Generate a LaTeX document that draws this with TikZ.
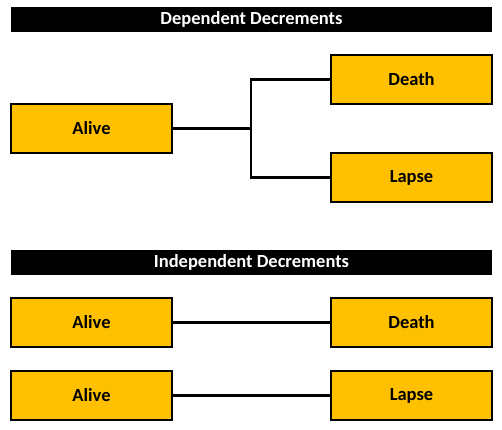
\documentclass[tikz,border=0pt]{standalone}
\usepackage{fontspec}
\setmainfont{Carlito}
\definecolor{gold}{HTML}{FFC000}
\tikzset{
  box/.style={draw=black, line width=1.3pt, fill=gold, minimum width=161pt, minimum height=49pt, inner sep=0pt, font=\fontsize{18.5}{22}\selectfont\bfseries},
  bar/.style={fill=black, minimum width=481pt, minimum height=25pt, inner sep=0pt, text=white, font=\fontsize{18.5}{22}\selectfont\bfseries},
  link/.style={line width=2.2pt}
}
\begin{document}
\begin{tikzpicture}[x=1pt,y=1pt]
\useasboundingbox (0,0) rectangle (502,429);
% top section
\node[bar] (t1) at (251.5,409.5) {Dependent Decrements};
\node[box] (a1) at (91.5,300.5) {Alive};
\node[box] (d1) at (411.5,349.5) {Death};
\node[box] (l1) at (411.5,251.5) {Lapse};
\coordinate (j) at (251,300.5);
\draw[link] (a1.east) -- (j);
\draw[link] (d1.west) -| (j) |- (l1.west);
% bottom section
\node[bar] (t2) at (251.5,166.5) {Independent Decrements};
\node[box] (a2) at (91.5,106.5) {Alive};
\node[box] (d2) at (411.5,106.5) {Death};
\node[box] (a3) at (91.5,33.5) {Alive};
\node[box] (l2) at (411.5,33.5) {Lapse};
\draw[link] (a2) -- (d2);
\draw[link] (a3) -- (l2);
\end{tikzpicture}
\end{document}
